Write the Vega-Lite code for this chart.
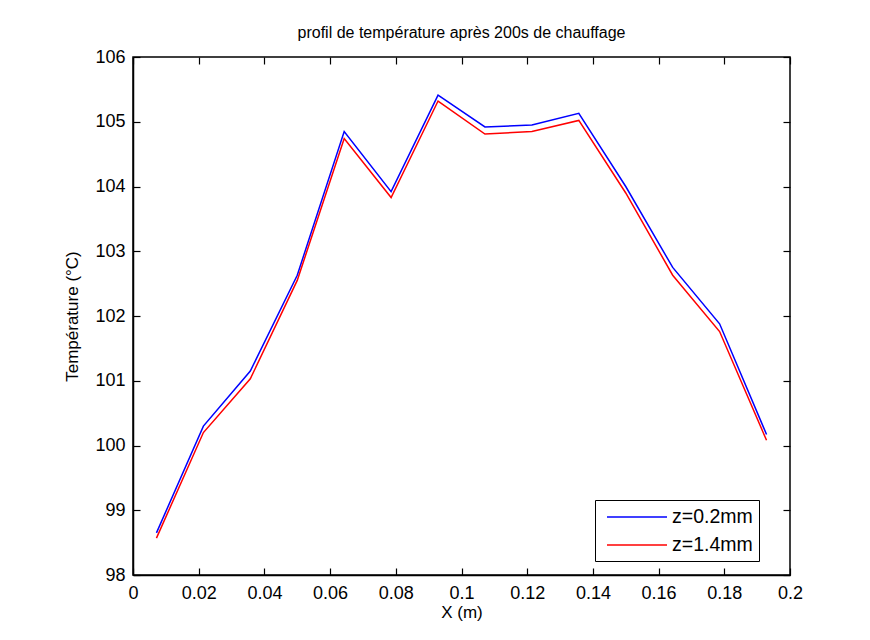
{
  "$schema": "https://vega.github.io/schema/vega-lite/v6.json",
  "autosize": {"type": "none"},
  "width": 657,
  "height": 518,
  "padding": {"left": 133, "top": 57, "right": 80, "bottom": 65},
  "background": "white",
  "title": {
    "text": "profil de température après 200s de chauffage",
    "font": "Liberation Sans",
    "fontSize": 16,
    "fontWeight": "normal",
    "color": "black",
    "offset": 7,
    "anchor": "middle"
  },
  "config": {
    "view": {"stroke": "black", "strokeWidth": 1.5},
    "axis": {
      "grid": false,
      "domainColor": "black",
      "domainWidth": 1.5,
      "tickColor": "black",
      "tickWidth": 1.2,
      "tickSize": -7,
      "labelFont": "Liberation Sans",
      "labelFontSize": 18,
      "labelColor": "black",
      "titleFont": "Liberation Sans",
      "titleFontSize": 17,
      "titleFontWeight": "normal",
      "titleColor": "black"
    }
  },
  "data": {
    "values": [
      {"x": 0.00714, "T": 98.65, "serie": "z=0.2mm"},
      {"x": 0.02143, "T": 100.3, "serie": "z=0.2mm"},
      {"x": 0.03571, "T": 101.15, "serie": "z=0.2mm"},
      {"x": 0.05, "T": 102.63, "serie": "z=0.2mm"},
      {"x": 0.06429, "T": 104.85, "serie": "z=0.2mm"},
      {"x": 0.07857, "T": 103.92, "serie": "z=0.2mm"},
      {"x": 0.09286, "T": 105.41, "serie": "z=0.2mm"},
      {"x": 0.10714, "T": 104.92, "serie": "z=0.2mm"},
      {"x": 0.12143, "T": 104.95, "serie": "z=0.2mm"},
      {"x": 0.13571, "T": 105.13, "serie": "z=0.2mm"},
      {"x": 0.15, "T": 104.0, "serie": "z=0.2mm"},
      {"x": 0.16429, "T": 102.75, "serie": "z=0.2mm"},
      {"x": 0.17857, "T": 101.88, "serie": "z=0.2mm"},
      {"x": 0.19286, "T": 100.17, "serie": "z=0.2mm"},
      {"x": 0.00714, "T": 98.57, "serie": "z=1.4mm"},
      {"x": 0.02143, "T": 100.2, "serie": "z=1.4mm"},
      {"x": 0.03571, "T": 101.03, "serie": "z=1.4mm"},
      {"x": 0.05, "T": 102.55, "serie": "z=1.4mm"},
      {"x": 0.06429, "T": 104.74, "serie": "z=1.4mm"},
      {"x": 0.07857, "T": 103.83, "serie": "z=1.4mm"},
      {"x": 0.09286, "T": 105.32, "serie": "z=1.4mm"},
      {"x": 0.10714, "T": 104.81, "serie": "z=1.4mm"},
      {"x": 0.12143, "T": 104.85, "serie": "z=1.4mm"},
      {"x": 0.13571, "T": 105.02, "serie": "z=1.4mm"},
      {"x": 0.15, "T": 103.9, "serie": "z=1.4mm"},
      {"x": 0.16429, "T": 102.63, "serie": "z=1.4mm"},
      {"x": 0.17857, "T": 101.76, "serie": "z=1.4mm"},
      {"x": 0.19286, "T": 100.08, "serie": "z=1.4mm"}
    ]
  },
  "resolve": {"axis": {"x": "independent", "y": "independent"}},
  "layer": [
    {
      "mark": {"type": "line", "strokeWidth": 1.5},
      "encoding": {
        "x": {
          "field": "x",
          "type": "quantitative",
          "scale": {"domain": [0, 0.2], "nice": false, "zero": false},
          "axis": {
            "title": "X (m)",
            "values": [0, 0.02, 0.04, 0.06, 0.08, 0.1, 0.12, 0.14, 0.16, 0.18, 0.2],
            "format": "~g",
            "labelPadding": 16,
            "titlePadding": 2,
            "labelFlush": false,
            "labelOverlap": false
          }
        },
        "y": {
          "field": "T",
          "type": "quantitative",
          "scale": {"domain": [98, 106], "nice": false, "zero": false},
          "axis": {
            "title": "Température (°C)",
            "values": [98, 99, 100, 101, 102, 103, 104, 105, 106],
            "format": "d",
            "labelPadding": 15,
            "titlePadding": 13,
            "labelFlush": false,
            "labelOverlap": false
          }
        },
        "color": {
          "field": "serie",
          "type": "nominal",
          "scale": {"domain": ["z=0.2mm", "z=1.4mm"], "range": ["#0000ff", "#ff0000"]},
          "legend": {
            "title": null,
            "orient": "none",
            "legendX": 462,
            "legendY": 443,
            "direction": "vertical",
            "strokeColor": "black",
            "fillColor": "white",
            "padding": 6,
            "symbolType": "M-3,0H3",
            "symbolSize": 400,
            "symbolStrokeWidth": 1.5,
            "symbolOffset": 25,
            "labelOffset": 24,
            "labelFont": "Liberation Sans",
            "labelFontSize": 19.5,
            "labelColor": "black",
            "rowPadding": 7
          }
        }
      }
    },
    {
      "mark": {"type": "point", "opacity": 0},
      "encoding": {
        "x": {
          "field": "x",
          "type": "quantitative",
          "axis": {
            "orient": "top",
            "title": null,
            "labels": false,
            "domain": false,
            "values": [0, 0.02, 0.04, 0.06, 0.08, 0.1, 0.12, 0.14, 0.16, 0.18, 0.2]
          }
        },
        "y": {
          "field": "T",
          "type": "quantitative",
          "axis": {
            "orient": "right",
            "title": null,
            "labels": false,
            "domain": false,
            "values": [98, 99, 100, 101, 102, 103, 104, 105, 106]
          }
        }
      }
    }
  ]
}
